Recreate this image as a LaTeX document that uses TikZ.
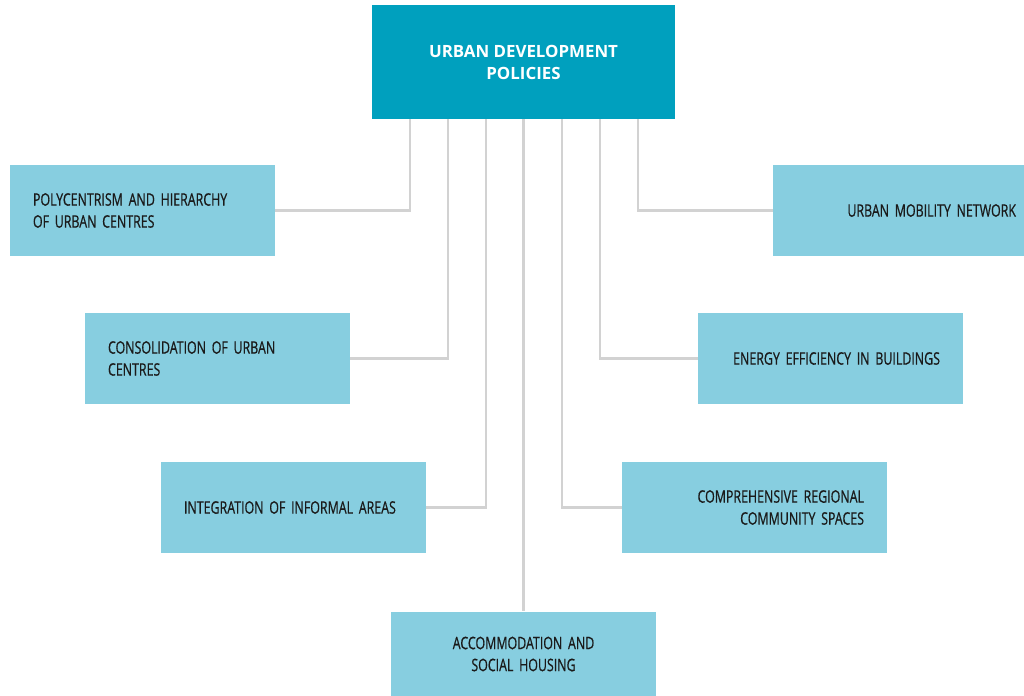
\documentclass[tikz,border=0pt]{standalone}
\usepackage{fontspec}
\setmainfont{Open Sans}
\newfontfamily\condfont{Open Sans}[FakeStretch=0.72,FakeBold=0.6]
\usetikzlibrary{calc}
\hyphenpenalty=10000
\definecolor{topblue}{HTML}{00A0BE}
\definecolor{lightblue}{HTML}{87CEE0}
\definecolor{linegrey}{HTML}{D2D2D2}
\definecolor{txt}{HTML}{1A1A1A}
\newcommand{\lblfont}{\condfont\fontsize{9.8}{12.5}\selectfont\spaceskip=2.2pt plus 1pt minus 0.5pt\relax}
\begin{document}
\begin{tikzpicture}[x=0.02cm,y=-0.02cm,
  topbox/.style={fill=topblue,draw=none,minimum width=6.06cm,minimum height=2.28cm,inner sep=0pt,
    text=white,align=center,font=\fontsize{9.6}{12.5}\selectfont\bfseries},
  leftbox/.style={fill=lightblue,draw=none,minimum width=5.3cm,minimum height=1.82cm,inner sep=0pt,
    text=txt,align=left,text width=4.38cm,font=\lblfont},
  rightbox/.style={fill=lightblue,draw=none,minimum width=5.3cm,minimum height=1.82cm,inner sep=0pt,
    text=txt,align=right,text width=4.38cm,font=\lblfont},
  conn/.style={draw=linegrey,line width=1.3pt}]
\useasboundingbox (0,0) rectangle (1024,696);
\node[topbox] (top) at (523.5,62) {URBAN DEVELOPMENT\\POLICIES};
\node[leftbox] (l1) at (142.5,210.5) {POLYCENTRISM AND HIERARCHY\\OF URBAN CENTRES};
\node[leftbox] (l2) at (217.5,358.5) {CONSOLIDATION OF URBAN\\CENTRES};
\node[leftbox] (l3) at (293.5,507.5) {\mbox{INTEGRATION OF INFORMAL AREAS}};
\node[leftbox,align=center,minimum height=1.7cm] (b) at (523.5,654) {ACCOMMODATION AND\\SOCIAL HOUSING};
\node[rightbox,minimum width=5.02cm,text width=4.7cm] (r1) at (898.5,210.5) {URBAN MOBILITY NETWORK};
\node[rightbox] (r2) at (830.5,358.5) {ENERGY EFFICIENCY IN BUILDINGS};
\node[rightbox] (r3) at (754.5,507.5) {COMPREHENSIVE REGIONAL\\COMMUNITY SPACES};
\draw[conn] ($(top.south)+(-113.5,0)$) |- (l1.east);
\draw[conn] ($(top.south)+(-75.5,0)$) |- (l2.east);
\draw[conn] ($(top.south)+(-37.5,0)$) |- (l3.east);
\draw[conn] (top.south) -- (b.north);
\draw[conn] ($(top.south)+(38.5,0)$) |- (r3.west);
\draw[conn] ($(top.south)+(76.5,0)$) |- (r2.west);
\draw[conn] ($(top.south)+(114.5,0)$) |- (r1.west);
\end{tikzpicture}
\end{document}
